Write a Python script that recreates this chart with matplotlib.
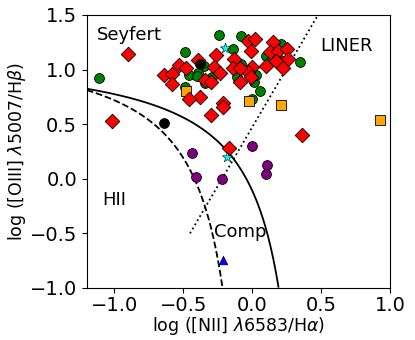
import matplotlib
matplotlib.use('Agg')
import matplotlib.pyplot as plt
import numpy as np

sy_x = [-1.11, -0.24, -0.08, -0.49, -0.14, 0.21, 0.10, 0.13, 0.20, 0.35, -0.08, -0.35,
        -0.39, -0.46, -0.40, -0.32, -0.29, -0.11, 0.01, 0.03, 0.06, 0.00, -0.49, -0.34]
sy_y = [0.92, 1.32, 1.31, 1.16, 1.19, 1.23, 1.12, 1.07, 1.09, 1.07, 1.05, 1.03,
        0.97, 0.95, 0.94, 0.90, 0.93, 0.93, 0.89, 0.95, 0.80, 0.73, 0.84, 0.88]

red_x = [-0.90, -0.53, -0.48, -0.64, -0.58, -0.58, -0.39, -0.26, -0.28, -0.23, -0.34, -0.30,
         -0.13, -0.14, -0.03, 0.02, -0.01, 0.00, -0.03, -0.01, -0.09, 0.15, 0.13, 0.19,
         0.25, 0.26, 0.10, 0.17, 0.22, -0.38, -0.46, -0.21, -0.21, -0.30, -1.02, 0.36,
         -0.17, -0.09]
red_y = [1.14, 1.04, 1.01, 0.95, 0.96, 0.87, 1.09, 1.13, 1.02, 0.97, 0.90, 0.89,
         1.10, 1.01, 1.26, 1.28, 1.17, 1.02, 0.98, 0.93, 0.89, 1.25, 1.16, 1.17,
         1.19, 1.10, 1.03, 1.08, 1.01, 0.75, 0.73, 0.69, 0.66, 0.58, 0.53, 0.40,
         0.28, 1.01]

blk_x = [-0.38, -0.64]
blk_y = [1.05, 0.51]

org_x = [-0.48, -0.02, 0.21, 0.93]
org_y = [0.80, 0.71, 0.68, 0.535]

star_x = [-0.20, -0.185]
star_y = [1.20, 0.20]

pur_x = [-0.44, 0.00, 0.11, 0.10, -0.41, -0.22]
pur_y = [0.24, 0.30, 0.13, 0.045, 0.02, 0.00]

tri_x = [-0.21]
tri_y = [-0.74]

fig = plt.figure(figsize=(4.15, 3.4), dpi=100)
ax = fig.add_axes([0.209, 0.153, 0.731, 0.803])

# Kewley 2001 y Kauffmann 2003
x1 = np.linspace(-1.2, 0.19, 300)
ax.plot(x1, 0.61 / (x1 - 0.47) + 1.19, 'k-', lw=1.3)
x2 = np.linspace(-1.2, -0.215, 300)
ax.plot(x2, 0.61 / (x2 - 0.05) + 1.3, 'k--', lw=1.3)
x3 = np.linspace(-0.451, 0.5, 50)
ax.plot(x3, 2.155 * x3 + 0.472, 'k:', lw=1.3)

ax.scatter(sy_x, sy_y, s=50, c='green', edgecolors='k', linewidths=0.6, zorder=3)
ax.scatter(red_x, red_y, s=55, c='red', marker='D', edgecolors='k', linewidths=0.6, zorder=4)
ax.scatter(blk_x, blk_y, s=50, c='k', edgecolors='k', linewidths=0.6, zorder=4)
ax.scatter(org_x, org_y, s=45, c='orange', marker='s', edgecolors='k', linewidths=0.6, zorder=3)
ax.scatter(pur_x, pur_y, s=50, c='purple', edgecolors='k', linewidths=0.6, zorder=3)
ax.scatter(star_x, star_y, s=60, c='cyan', marker='*', edgecolors='k', linewidths=0.4, zorder=5)
ax.scatter(tri_x, tri_y, s=40, c='blue', marker='^', edgecolors='k', linewidths=0.4, zorder=5)

ax.text(-1.13, 1.32, 'Seyfert', fontsize=13, va='center')
ax.text(0.49, 1.22, 'LINER', fontsize=13, va='center')
ax.text(-1.09, -0.19, 'HII', fontsize=13, va='center')
ax.text(-0.28, -0.49, 'Comp', fontsize=13, va='center')

ax.set_xlim(-1.2, 1.0)
ax.set_ylim(-1.0, 1.5)
ax.set_xticks([-1.0, -0.5, 0.0, 0.5, 1.0])
ax.set_yticks([-1.0, -0.5, 0.0, 0.5, 1.0, 1.5])
ax.tick_params(labelsize=14)
ax.tick_params(axis='x', pad=2.5)
ax.set_xlabel(r'log ([NII] $\lambda$6583/H$\alpha$)', fontsize=12.5, labelpad=0)
ax.set_ylabel(r'log ([OIII] $\lambda$5007/H$\beta$)', fontsize=12.5, labelpad=1)

plt.savefig('out.png', dpi=100)
